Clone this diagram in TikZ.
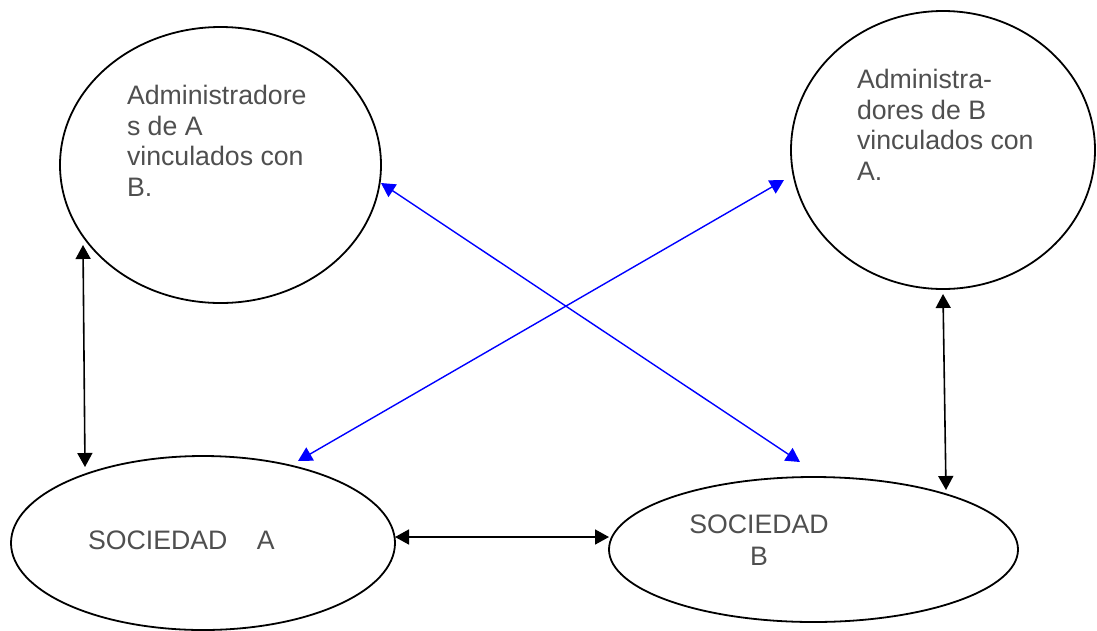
\documentclass[tikz,border=0pt]{standalone}
\usepackage{fontspec}
\setmainfont{Liberation Sans}
\usetikzlibrary{shapes.geometric,arrows.meta}
\definecolor{txtgray}{HTML}{4F4F4F}
\definecolor{linkblue}{HTML}{0000FF}
\begin{document}
\begin{tikzpicture}[x=1pt,y=-1pt,
  oval/.style={ellipse,draw=black,line width=1.8pt,inner sep=0pt},
  lbl/.style={inner sep=0pt,outer sep=0pt,text=txtgray,font=\fontsize{26.7}{30.8}\selectfont},
  blk/.style={draw=black,line width=1.6pt,{Triangle[length=14pt,width=15pt]}-{Triangle[length=14pt,width=15pt]}},
  blu/.style={draw=linkblue,line width=1.4pt,{Triangle[length=14pt,width=15pt]}-{Triangle[length=14pt,width=15pt]}}
]
\useasboundingbox (0,0) rectangle (1097,630);
% ellipses
\node[oval,minimum width=321pt,minimum height=276pt] (tl) at (220.5,165) {};
\node[oval,minimum width=304pt,minimum height=278pt] (tr) at (943,150) {};
\node[oval,minimum width=384pt,minimum height=174pt] (bl) at (203,543) {};
\node[oval,minimum width=409pt,minimum height=145pt] (br) at (813.5,549.5) {};
% texts
\node[lbl,align=left,anchor=north west] (tltxt) at (127,85)
  {Administradore\\s de A\\vinculados con\\B.};
\node[lbl,align=left,anchor=north west] (trtxt) at (857,69)
  {Administra-\\dores de B\\vinculados con\\A.};
\node[lbl,anchor=base west] (bltxt) at (88,549) {SOCIEDAD\hspace{29.5pt}A};
\node[lbl,align=center,anchor=north,font=\fontsize{26.7}{32}\selectfont] (brtxt) at (759,515)
  {SOCIEDAD\\B};
% connector ends
\coordinate (v1a) at (83,245);
\coordinate (v1b) at (85,467);
\coordinate (v2a) at (943,294);
\coordinate (v2b) at (946,490);
\coordinate (h1a) at (395,537);
\coordinate (h1b) at (609,537);
\coordinate (d1a) at (381,183);
\coordinate (d1b) at (800,462);
\coordinate (d2a) at (784,180);
\coordinate (d2b) at (298,461);
% connectors
\draw[blk] (v1a) -- (v1b);
\draw[blk] (v2a) -- (v2b);
\draw[blk] (h1a) -- (h1b);
\draw[blu] (d1a) -- (d1b);
\draw[blu] (d2a) -- (d2b);
\end{tikzpicture}
\end{document}
